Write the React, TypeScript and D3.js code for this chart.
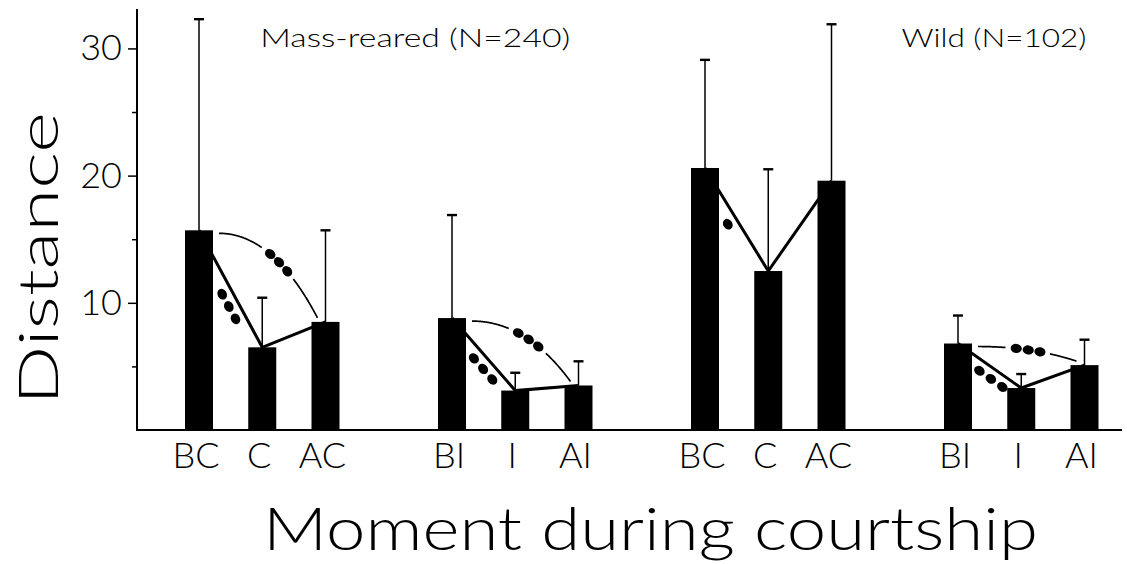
import { useRef, useEffect } from 'react';
import * as d3 from 'd3';

// moments during courtship, one per bar (BC/AC = before/after copulation, BI/AI = before/after intromission)
const categories = ['BC', 'C', 'AC', 'BI', 'I', 'AI', 'BC', 'C', 'AC', 'BI', 'I', 'AI'];
// slot of each bar on the x axis (gaps of one slot between groups)
const slots = [0, 1, 2, 4, 5, 6, 8, 9, 10, 12, 13, 14];
const means = [15.7, 6.5, 8.5, 8.8, 3.1, 3.5, 20.6, 12.5, 19.6, 6.8, 3.3, 5.1];
const sds = [16.6, 3.9, 7.2, 8.1, 1.4, 1.9, 8.5, 8.0, 12.3, 2.2, 1.1, 2.0];
const populations = ['Mass-reared (N=240)', 'Wild (N=102)'];
const yTicks = [10, 20, 30];
const yMinorTicks = [5, 15, 25];
// number of significance dots per group of three bars
const sigFirstSecond = [3, 3, 1, 3];
const sigFirstThird = [3, 3, 0, 3];

const W = 1127;
const H = 564;
const FONT = "Lato, 'DejaVu Sans', sans-serif";

const App = () => {
  const svgRef = useRef<SVGSVGElement>(null);

  useEffect(() => {
    document.body.style.margin = '0';
    const svg = d3.select(svgRef.current);
    svg.selectAll('*').remove();

    const x = d3.scaleLinear().domain([0, 14]).range([199, 1084.5]);
    const y = d3.scaleLinear().domain([0, 33.1]).range([430, 9]);
    const barW = 28;
    const axisX = 137;

    const bars = categories.map((c, i) => ({ c, slot: slots[i], m: means[i], sd: sds[i] }));
    const groups = d3.range(4).map((g) => bars.slice(g * 3, g * 3 + 3));

    // connecting lines through bar tops (behind the bars)
    const line = d3.line<any>().x((d) => x(d.slot)).y((d) => y(d.m));
    svg.append('g')
      .selectAll('path')
      .data(groups)
      .join('path')
      .attr('d', (d) => line(d))
      .attr('fill', 'none')
      .attr('stroke', '#000')
      .attr('stroke-width', 3);

    // bars
    svg.append('g')
      .selectAll('rect')
      .data(bars)
      .join('rect')
      .attr('x', (d) => x(d.slot) - barW / 2)
      .attr('y', (d) => y(d.m))
      .attr('width', barW)
      .attr('height', (d) => y(0) - y(d.m))
      .attr('fill', '#000');

    // error bars
    const err = svg.append('g').attr('stroke', '#000');
    err.selectAll('line.v')
      .data(bars)
      .join('line')
      .attr('class', 'v')
      .attr('x1', (d) => x(d.slot))
      .attr('x2', (d) => x(d.slot))
      .attr('y1', (d) => y(d.m))
      .attr('y2', (d) => y(d.m + d.sd))
      .attr('stroke-width', 1.5);
    err.selectAll('line.cap')
      .data(bars)
      .join('line')
      .attr('class', 'cap')
      .attr('x1', (d) => x(d.slot) - 5)
      .attr('x2', (d) => x(d.slot) + 5)
      .attr('y1', (d) => y(d.m + d.sd))
      .attr('y2', (d) => y(d.m + d.sd))
      .attr('stroke-width', 2.4);

    const dotG = svg.append('g').attr('fill', '#000');
    const dot = (px: number, py: number, ang: number) => {
      dotG.append('ellipse')
        .attr('cx', px).attr('cy', py)
        .attr('rx', 5.6).attr('ry', 4.6)
        .attr('transform', `rotate(${ang} ${px} ${py})`);
    };

    groups.forEach((gr, g) => {
      const [b1, b2, b3] = gr;
      // dots beside the first -> second line
      const p0 = [x(b1.slot), y(b1.m)];
      const p1 = [x(b2.slot), y(b2.m)];
      const dx = p1[0] - p0[0];
      const dy = p1[1] - p0[1];
      const len = Math.hypot(dx, dy);
      const ux = dx / len;
      const uy = dy / len;
      const edge = barW / 2 / ux;
      const mid = edge + (len - edge) / 2;
      const ang = (Math.atan2(dy, dx) * 180) / Math.PI;
      for (let k = 0; k < sigFirstSecond[g]; k++) {
        const s = mid - 14 + k * 14;
        dot(p0[0] + ux * s - uy * 10, p0[1] + uy * s + ux * 10, ang);
      }

      // arc first -> third, broken by its dots
      const n = sigFirstThird[g];
      if (n === 0) return;
      const sx = x(b1.slot) + barW / 2 + 6;
      const sy = y(b1.m) + 3;
      const ex = x(b3.slot) - 8;
      const ey = y(b3.m) - 4;
      const cx = sx + 0.55 * (ex - sx);
      const cy = sy;
      const pts = d3.range(0, 1.0001, 0.005).map((t) => [
        (1 - t) * (1 - t) * sx + 2 * t * (1 - t) * cx + t * t * ex,
        (1 - t) * (1 - t) * sy + 2 * t * (1 - t) * cy + t * t * ey,
      ]);
      const cum = [0];
      for (let i = 1; i < pts.length; i++) {
        cum.push(cum[i - 1] + Math.hypot(pts[i][0] - pts[i - 1][0], pts[i][1] - pts[i - 1][1]));
      }
      const L = cum[cum.length - 1];
      const seg = (a: number, b: number) => pts.filter((_, i) => cum[i] >= a && cum[i] <= b);
      const at = (s: number) => {
        const i = Math.max(1, d3.bisectLeft(cum, s));
        return { p: pts[i], a: (Math.atan2(pts[i][1] - pts[i - 1][1], pts[i][0] - pts[i - 1][0]) * 180) / Math.PI };
      };
      const arcLine = d3.line();
      [seg(0, L / 2 - 22), seg(L / 2 + 22, L)].forEach((s) => {
        svg.append('path')
          .attr('d', arcLine(s as [number, number][]))
          .attr('fill', 'none')
          .attr('stroke', '#000')
          .attr('stroke-width', 1.7);
      });
      for (let k = 0; k < n; k++) {
        const q = at(L / 2 - 12 + k * 12);
        dot(q.p[0], q.p[1], q.a);
      }
    });

    // y axis
    const yAxis = svg.append('g').attr('transform', `translate(${axisX},0)`);
    yAxis.call(d3.axisLeft(y).tickValues(yTicks).tickSize(9).tickPadding(6).tickFormat(d3.format('d')));
    yAxis.append('g').call(d3.axisLeft(y).tickValues(yMinorTicks).tickSize(5).tickFormat(() => ''));
    yAxis.selectAll('.domain').remove();
    yAxis.selectAll('line').attr('stroke', '#000').attr('stroke-width', 1.5);
    yAxis.selectAll('text')
      .attr('font-family', FONT)
      .attr('font-weight', 300)
      .attr('font-size', 36)
      .attr('fill', '#000');
    svg.append('line')
      .attr('x1', axisX).attr('x2', axisX)
      .attr('y1', y(33.1)).attr('y2', y(0) + 1)
      .attr('stroke', '#000').attr('stroke-width', 2);

    // x baseline and labels
    svg.append('line')
      .attr('x1', axisX).attr('x2', 1122)
      .attr('y1', y(0)).attr('y2', y(0))
      .attr('stroke', '#000').attr('stroke-width', 2);
    svg.append('g')
      .selectAll('text')
      .data(bars)
      .join('text')
      .attr('x', (d) => x(d.slot) - 3)
      .attr('y', 468)
      .attr('text-anchor', 'middle')
      .attr('font-family', FONT)
      .attr('font-weight', 300)
      .attr('font-size', 36)
      .text((d) => d.c);

    // titles
    svg.append('text')
      .attr('x', x(1) - 2).attr('y', 47)
      .attr('font-family', FONT).attr('font-weight', 300).attr('font-size', 26)
      .attr('textLength', 310).attr('lengthAdjust', 'spacingAndGlyphs')
      .text(populations[0]);
    svg.append('text')
      .attr('x', x(14) + 2).attr('y', 47)
      .attr('text-anchor', 'end')
      .attr('font-family', FONT).attr('font-weight', 300).attr('font-size', 26)
      .attr('textLength', 185).attr('lengthAdjust', 'spacingAndGlyphs')
      .text(populations[1]);

    svg.append('text')
      .attr('x', 263).attr('y', 550)
      .attr('font-family', FONT).attr('font-weight', 300).attr('font-size', 60)
      .attr('textLength', 775).attr('lengthAdjust', 'spacingAndGlyphs')
      .text('Moment during courtship');
    svg.append('text')
      .attr('transform', 'translate(58,405) rotate(-90)')
      .attr('font-family', FONT).attr('font-weight', 300).attr('font-size', 56)
      .attr('textLength', 293).attr('lengthAdjust', 'spacingAndGlyphs')
      .text('Distance');
  }, []);

  return (
    <svg ref={svgRef} width={W} height={H} style={{ display: 'block', background: '#fff' }} />
  );
};

export default App;
